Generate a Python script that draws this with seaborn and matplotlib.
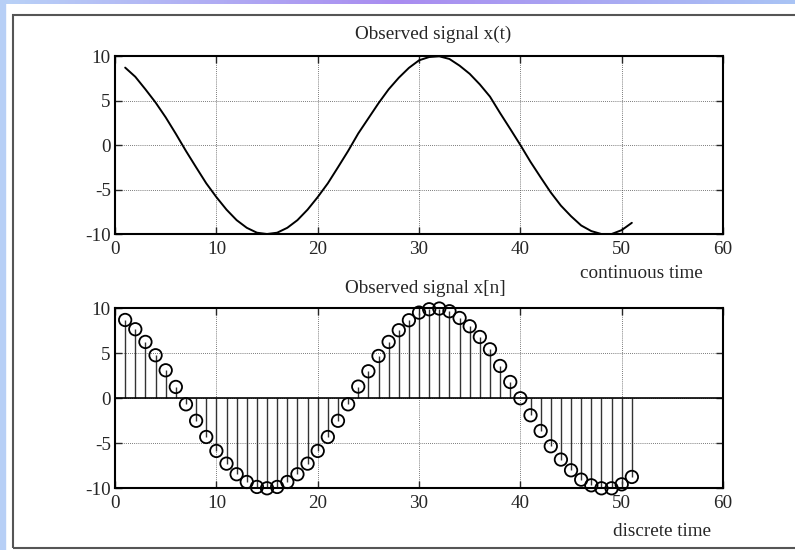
import numpy as np
import pandas as pd
import matplotlib
matplotlib.use("Agg")
import matplotlib.pyplot as plt
from matplotlib.patches import Rectangle
import seaborn as sns

# samples
n = list(range(1, 52))
x_vals = [8.7, 7.67, 6.26, 4.78, 3.11, 1.26, -0.67, -2.5, -4.3, -5.85,
          -7.26, -8.44, -9.3, -9.85, -10.0, -9.85, -9.3, -8.44, -7.26, -5.85,
          -4.3, -2.5, -0.67, 1.3, 3.0, 4.7, 6.26, 7.56, 8.67, 9.52,
          9.89, 9.97, 9.67, 8.92, 8.0, 6.81, 5.44, 3.59, 1.81, 0.0,
          -1.89, -3.63, -5.33, -6.81, -8.0, -9.04, -9.67, -10.0, -10.0, -9.56,
          -8.74]
xticks = [0, 10, 20, 30, 40, 50, 60]
yticks = [-10, -5, 0, 5, 10]

df = pd.DataFrame({"n": n, "x": x_vals})

sns.set_style("ticks")
plt.rcParams["font.family"] = ["Liberation Serif", "DejaVu Serif"]
plt.rcParams["axes.unicode_minus"] = False
plt.rcParams["xtick.direction"] = "in"
plt.rcParams["ytick.direction"] = "in"

fig = plt.figure(figsize=(7.95, 5.5), dpi=100)
fig.patch.set_facecolor("white")

# outer decoration: gradient strips and grey frame
top = fig.add_axes([0, 1 - 4 / 550, 1, 4 / 550])
top.imshow(np.linspace(0, 1, 256).reshape(1, -1), aspect="auto",
           cmap=matplotlib.colors.LinearSegmentedColormap.from_list(
               "g", ["#b9d2f7", "#a98cf0", "#a9c4f5"]))
top.axis("off")
fig.patches.append(Rectangle((0, 0), 5 / 795, 1, transform=fig.transFigure,
                             color="#b7cff6", zorder=0))
fig.patches.append(Rectangle((13 / 795, 2 / 550), 1, 533 / 550,
                             transform=fig.transFigure, fill=False,
                             edgecolor="#555555", lw=1.5, zorder=1))

ax1 = fig.add_axes([0.1447, 0.5745, 0.7648, 0.3236])
ax2 = fig.add_axes([0.1447, 0.1122, 0.7648, 0.3273])

sns.lineplot(data=df, x="n", y="x", ax=ax1, color="black", lw=1.4)

ax2.vlines(df["n"], 0, df["x"], color="#333333", lw=1.0)
ax2.axhline(0, color="black", lw=1.2)
sns.scatterplot(data=df, x="n", y="x", ax=ax2, marker="o", s=80,
                facecolor="none", edgecolor="black", linewidth=1.3,
                zorder=3, clip_on=False)

fs = 13.8
for ax, title, tx, pad, lab, lx, ly in [
        (ax1, "Observed signal x(t)", 0.523, 12.5, "continuous time", 0.866, -0.175),
        (ax2, "Observed signal x[n]", 0.51, 11, "discrete time", 0.90, -0.195)]:
    ax.set_xlim(0, 60)
    ax.set_ylim(-10, 10)
    ax.set_xticks(xticks)
    ax.set_yticks(yticks)
    ax.grid(True, color="#222222", ls=(0, (1, 1.5)), lw=0.6, alpha=0.8)
    ax.set_axisbelow(True)
    for s in ax.spines.values():
        s.set_linewidth(1.5)
        s.set_color("black")
    ax.tick_params(labelsize=fs, length=5, width=1, top=True, right=True, pad=3)
    ax.tick_params(axis="x", pad=5)
    ax.set_title(title, fontsize=fs, pad=pad, x=tx)
    ax.set_xlabel(lab, fontsize=fs)
    ax.xaxis.set_label_coords(lx, ly)
    ax.set_ylabel("")

fig.savefig("out.png", dpi=100)
